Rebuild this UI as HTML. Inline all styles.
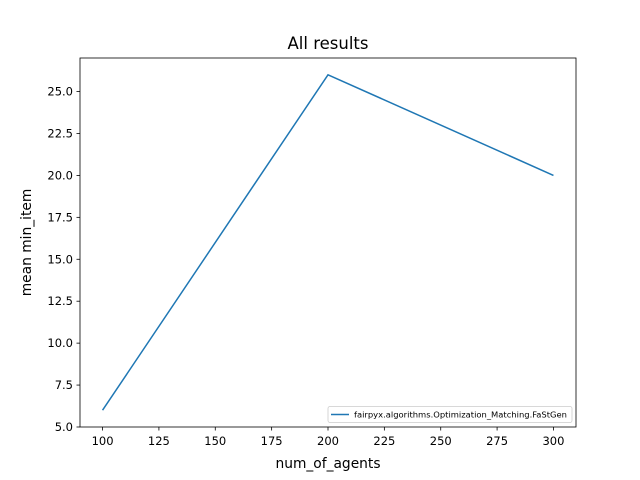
<!DOCTYPE html>
<html><head><meta charset="utf-8"><style>body{margin:0;background:#fff}svg{display:block;font-family:"DejaVu Sans","Liberation Sans",sans-serif}</style></head>
<body>
<svg id="chart" width="640" height="480">
<rect width="640" height="480" fill="#fff"/>
<text x="328" y="49" font-size="16.5" text-anchor="middle">All results</text>
<g id="axes"></g>
<path id="series" fill="none" stroke="#1f77b4" stroke-width="1.5"/>
<rect x="80" y="58" width="496" height="369" fill="none" stroke="#000" stroke-width="0.8"/>
<text x="328" y="468" font-size="13.8" text-anchor="middle">num_of_agents</text>
<text transform="translate(31,242.5) rotate(-90)" font-size="13.8" text-anchor="middle">mean min_item</text>
<g>
<rect x="328" y="406.5" width="244" height="16" fill="#fff" stroke="#ccc" stroke-width="0.8" rx="2"/>
<line x1="331" y1="414.5" x2="349" y2="414.5" stroke="#1f77b4" stroke-width="1.5"/>
<text x="354" y="417.5" font-size="8" textLength="213" lengthAdjust="spacingAndGlyphs">fairpyx.algorithms.Optimization_Matching.FaStGen</text>
</g>
</svg>
<script>
const xs=[100,200,300];
const ys=[6,26,20];
const xTicks=[100,125,150,175,200,225,250,275,300];
const yTicks=[5.0,7.5,10.0,12.5,15.0,17.5,20.0,22.5,25.0];
const X=v=>80+(v-90)*496/220;
const Y=v=>427-(v-5)*369/22;
const ns="http://www.w3.org/2000/svg";
const g=document.getElementById('axes');
function mk(t,a){const e=document.createElementNS(ns,t);for(const k in a)e.setAttribute(k,a[k]);g.appendChild(e);return e;}
xTicks.forEach(v=>{
 const l=mk('line',{x1:X(v),x2:X(v),y1:427,y2:430.5,stroke:'#000','stroke-width':0.8});
 
 
 const t=mk('text',{x:X(v),y:445,'font-size':11.5,'text-anchor':'middle'});t.textContent=v;
 
 
});
yTicks.forEach(v=>{
 const l=mk('line',{x1:76.5,x2:80,y1:Y(v),y2:Y(v),stroke:'#000','stroke-width':0.8});
 
 
 const t=mk('text',{x:73,y:Y(v)+4,'font-size':11.5,'text-anchor':'end'});t.textContent=v.toFixed(1);
 
 
});
document.getElementById('series').setAttribute('d',xs.map((x,i)=>(i?'L':'M')+X(x)+','+Y(ys[i])).join(' '));
</script>
</body></html>
